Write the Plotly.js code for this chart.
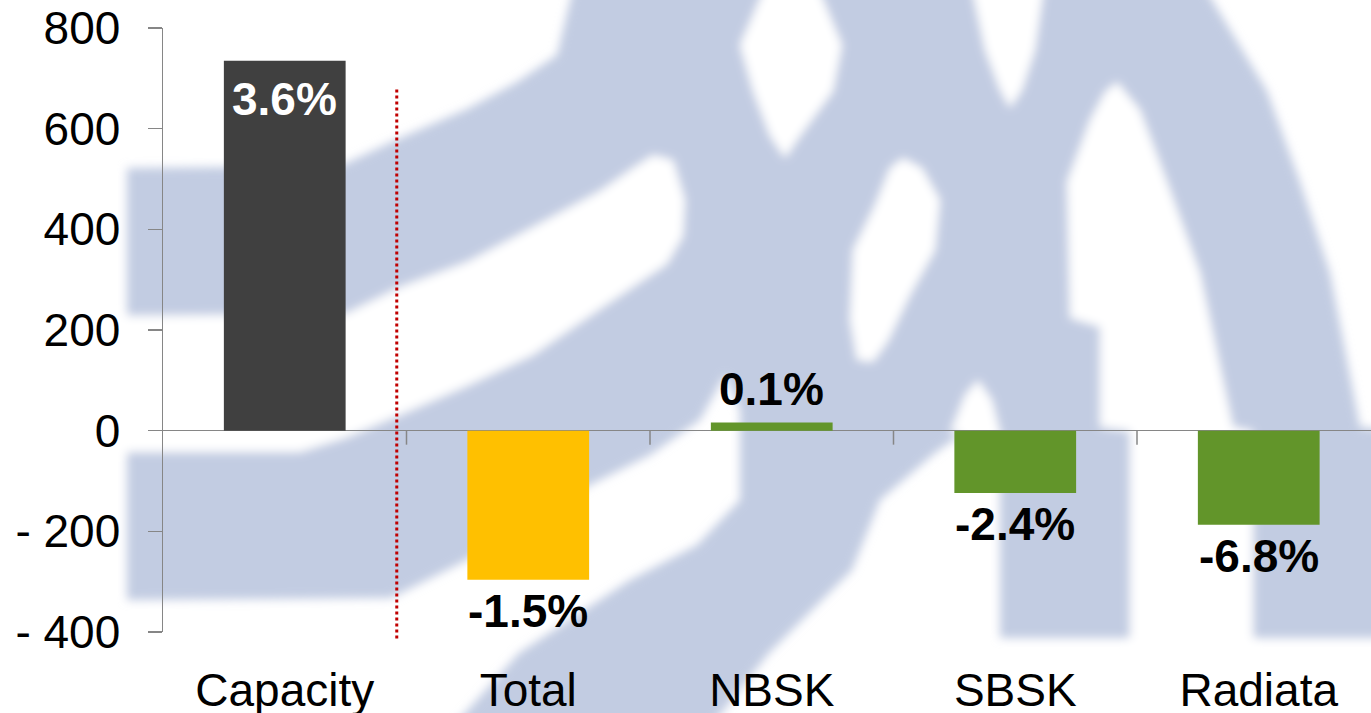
<!DOCTYPE html>
<html>
<head>
<meta charset="utf-8">
<script src="https://cdn.plot.ly/plotly-3.0.1.min.js"></script>
<style>
html,body{margin:0;padding:0;background:#ffffff;}
#chart{width:1371px;height:713px;}
</style>
</head>
<body>
<div id="chart"></div>
<script>
// ---------- data ----------
const categories = ['Capacity', 'Total', 'NBSK', 'SBSK', 'Radiata'];
const values = [735, -296, 16, -124, -187];
const pctLabels = ['3.6%', '-1.5%', '0.1%', '-2.4%', '-6.8%'];
const yTickVals = [-400, -200, 0, 200, 400, 600, 800];
const yTickText = ['- 400', '- 200', '0', '200', '400', '600', '800'];

// ---------- styles ----------
const barColors = ['#404040', '#ffc000', '#62952a', '#62952a', '#62952a'];
const labelInside = [true, false, false, false, false];
const FONT = '"Liberation Sans", Arial, Helvetica, sans-serif';
const AXIS_GREY = '#868686';
const X_RANGE = [-0.5, 4.461];
const Y_RANGE = [-400, 800];

// ---------- background watermark (decorative logo) ----------
const W = 1371, H = 713, L = 163, R = 0, T = 28, B = 81;
const blueFill = '#c2cce2';
const bluePoly = '127,168 340,166 400,138 467,109 517,82 557,55 575,-20 1200,-20 1267,91 1300,182 1330,273 1360,427 1400,431 1400,638 1000,638 1000,480 963,433 935,453 880,500 852,570 769,653 700,740 441,740 519,653 630,580 697,545 740,500 740,410 725,375 700,420 650,455 590,485 463,562 391,598 127,600';
const whitePolys = [
  '100,316 345,314 400,287 467,262 533,227 600,191 633,168 653,155 673,160 685,200 683,236 667,264 600,309 533,355 467,386 400,415 345,438 300,452 100,452',
  '903,158 922,168 940,200 935,250 910,295 888,341 873,362 857,360 850,320 853,250 875,205 890,168',
  '768,-20 740,45 753,91 770,136 785,158 800,136 833,91 842,45 815,-20',
  '970,-20 985,50 1000,90 1010,108 1022,90 1035,50 1045,-20',
  '1117,82 1140,110 1167,182 1200,273 1233,427 1253,431 1253,650 1130,650 1130,431 1100,427 1100,327 1070,318 1067,182 1090,120 1105,92',
  '950,433 965,395 978,380 992,400 1002,440 1000,480 963,433'
];
let svg = '<svg xmlns="http://www.w3.org/2000/svg" width="' + W + '" height="' + H + '" viewBox="0 0 ' + W + ' ' + H + '">' +
  '<defs><filter id="b" x="-10%" y="-10%" width="120%" height="120%"><feGaussianBlur stdDeviation="5"/></filter></defs>' +
  '<g filter="url(#b)"><polygon points="' + bluePoly + '" fill="' + blueFill + '"/>';
whitePolys.forEach(p => { svg += '<polygon points="' + p + '" fill="#ffffff"/>'; });
svg += '</g></svg>';
const svgUri = 'data:image/svg+xml;charset=utf-8,' + encodeURIComponent(svg);
const plotW = W - L - R, plotH = H - T - B;

// ---------- traces ----------
const trace = {
  type: 'bar',
  x: categories,
  y: values,
  width: 0.5,
  marker: {color: barColors, line: {width: 0}},
  hoverinfo: 'skip',
  cliponaxis: false
};

// ---------- annotations (data labels) ----------
const annotations = categories.map((c, i) => {
  const v = values[i];
  const inside = labelInside[i];
  return {
    x: c, y: v, xref: 'x', yref: 'y',
    text: pctLabels[i],
    showarrow: false,
    xanchor: 'center',
    yanchor: inside ? 'top' : (v >= 0 ? 'bottom' : 'top'),
    yshift: inside ? -10 : (v >= 0 ? 6 : -3),
    font: {family: FONT, size: 46, color: inside ? '#ffffff' : '#000000', weight: 'bold'}
  };
});

// ---------- shapes: category boundary ticks on the zero line, divider ----------
const shapes = [];
for (let i = 0; i < categories.length - 1; i++) {
  shapes.push({
    type: 'line', xref: 'x', yref: 'y', ysizemode: 'pixel', yanchor: 0,
    x0: i + 0.5, x1: i + 0.5, y0: 0, y1: -14,
    line: {color: AXIS_GREY, width: 1.5}
  });
}
// dotted divider between Capacity and the rest (paper refs so it is not clipped)
const toPaperX = v => (v - X_RANGE[0]) / (X_RANGE[1] - X_RANGE[0]);
const toPaperY = v => (v - Y_RANGE[0]) / (Y_RANGE[1] - Y_RANGE[0]);
shapes.push({
  type: 'line', xref: 'paper', yref: 'paper',
  x0: toPaperX(0.46), x1: toPaperX(0.46), y0: toPaperY(-413), y1: toPaperY(683),
  line: {color: '#c00000', width: 3, dash: '3px,3px'}
});

const layout = {
  width: W, height: H,
  margin: {l: L, r: R, t: T, b: B, pad: 0},
  paper_bgcolor: '#ffffff',
  plot_bgcolor: 'rgba(0,0,0,0)',
  showlegend: false,
  font: {family: FONT, color: '#000000'},
  xaxis: {
    type: 'category',
    range: X_RANGE,
    showline: false, showgrid: false, zeroline: false,
    ticks: '',
    tickfont: {family: FONT, size: 46, color: '#000000'},
    ticklabelstandoff: 27,
    fixedrange: true
  },
  yaxis: {
    range: Y_RANGE,
    tickmode: 'array', tickvals: yTickVals, ticktext: yTickText,
    showline: true, linecolor: AXIS_GREY, linewidth: 1.5,
    ticks: 'outside', ticklen: 14, tickwidth: 1.5, tickcolor: AXIS_GREY,
    showgrid: false,
    zeroline: true, zerolinecolor: AXIS_GREY, zerolinewidth: 1.5,
    tickfont: {family: FONT, size: 46, color: '#000000'},
    ticklabelstandoff: 18,
    fixedrange: true
  },
  shapes: shapes,
  annotations: annotations,
  images: [{
    source: svgUri,
    xref: 'paper', yref: 'paper',
    x: -L / plotW, y: 1 + T / plotH,
    sizex: W / plotW, sizey: H / plotH,
    xanchor: 'left', yanchor: 'top',
    sizing: 'stretch', layer: 'below', opacity: 1
  }]
};

Plotly.newPlot('chart', [trace], layout, {displayModeBar: false, staticPlot: true});
</script>
</body>
</html>
